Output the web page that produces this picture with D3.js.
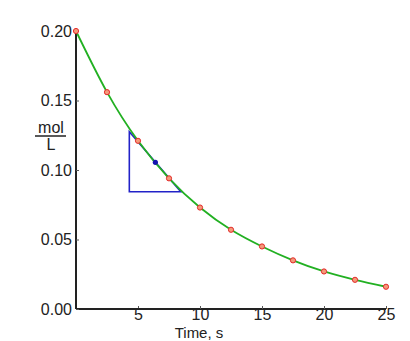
<!DOCTYPE html>
<html lang="en">
<head>
    <meta charset="UTF-8">
    <title>Concentration vs time</title>
    <script src="https://d3js.org/d3.v7.min.js"></script>
    <style>
        body { margin: 0; background: #fff; }
        svg text { font-family: "Liberation Sans", Arial, sans-serif; fill: #222; }
    </style>
</head>
<body>
    <div id="chart"></div>
    <script>
        // data
        const times = [0, 2.5, 5, 7.5, 10, 12.5, 15, 17.5, 20, 22.5, 25];
        const conc = [0.200, 0.156, 0.121, 0.094, 0.073, 0.057, 0.045, 0.035, 0.027, 0.021, 0.016];
        const xTicks = [5, 10, 15, 20, 25];
        const yTicks = [0, 0.05, 0.10, 0.15, 0.20];
        // tangent triangle at t = 6.4
        const tangentPoint = { t: 6.4, c: 0.1055 };
        const triangle = [
            { t: 4.3, c: 0.1275 },
            { t: 8.45, c: 0.0843 },
            { t: 4.3, c: 0.0843 }
        ];

        const width = 410;
        const height = 341;

        const svg = d3.select('#chart')
            .append('svg')
            .attr('width', width)
            .attr('height', height);

        const x = d3.scaleLinear().domain([0, 25]).range([76, 386]);
        const y = d3.scaleLinear().domain([0, 0.2]).range([309, 31]);

        // axes
        const xAxis = svg.append('g')
            .attr('transform', `translate(0,${y(0)})`)
            .call(d3.axisBottom(x).tickValues(xTicks).tickSize(-3).tickPadding(3).tickFormat(d3.format('d')));
        const yAxis = svg.append('g')
            .attr('transform', `translate(${x(0)},0)`)
            .call(d3.axisLeft(y).tickValues(yTicks).tickSize(-3).tickPadding(4).tickFormat(d3.format('.2f')));

        [xAxis, yAxis].forEach(g => {
            g.select('.domain').attr('stroke', '#222').attr('stroke-width', 2);
            g.selectAll('.tick line').attr('stroke', '#555').attr('stroke-width', 1);
            g.selectAll('.tick text').style('font-size', '16px').attr('fill', '#222');
        });
        xAxis.select('.domain').attr('d', `M${x(0)},0H${x(25)}`);
        yAxis.select('.domain').attr('d', `M0,${y(0.2)}V${y(0)}`);
        xAxis.selectAll('.tick text').attr('dy', '0.5em');

        // axis titles
        svg.append('text')
            .attr('x', (x(0) + x(25)) / 2 - 32)
            .attr('y', 338)
            .attr('text-anchor', 'middle')
            .style('font-size', '15px')
            .text('Time, s');

        svg.append('text')
            .attr('x', 51)
            .attr('y', 133)
            .attr('text-anchor', 'middle')
            .style('font-size', '16px')
            .text('mol');
        svg.append('line')
            .attr('x1', 35).attr('x2', 66)
            .attr('y1', 136).attr('y2', 136)
            .attr('stroke', '#222').attr('stroke-width', 1.5);
        svg.append('text')
            .attr('x', 51)
            .attr('y', 150)
            .attr('text-anchor', 'middle')
            .style('font-size', '16px')
            .text('L');

        // tangent triangle
        svg.append('path')
            .attr('d', d3.line().x(d => x(d.t)).y(d => y(d.c))(triangle) + 'Z')
            .attr('fill', 'none')
            .attr('stroke', '#2222c8')
            .attr('stroke-width', 1.6);

        // decay curve
        const pts = times.map((t, i) => ({ t, c: conc[i] }));
        svg.append('path')
            .datum(pts)
            .attr('d', d3.line().x(d => x(d.t)).y(d => y(d.c)).curve(d3.curveNatural))
            .attr('fill', 'none')
            .attr('stroke', '#22b022')
            .attr('stroke-width', 1.8);

        svg.selectAll('.pt')
            .data(pts)
            .enter()
            .append('circle')
            .attr('class', 'pt')
            .attr('cx', d => x(d.t))
            .attr('cy', d => y(d.c))
            .attr('r', 2.6)
            .attr('fill', '#f39a7a')
            .attr('stroke', '#e42a2a')
            .attr('stroke-width', 1);

        svg.append('circle')
            .attr('cx', x(tangentPoint.t))
            .attr('cy', y(tangentPoint.c))
            .attr('r', 2.6)
            .attr('fill', '#1414b0');
    </script>
</body>
</html>
